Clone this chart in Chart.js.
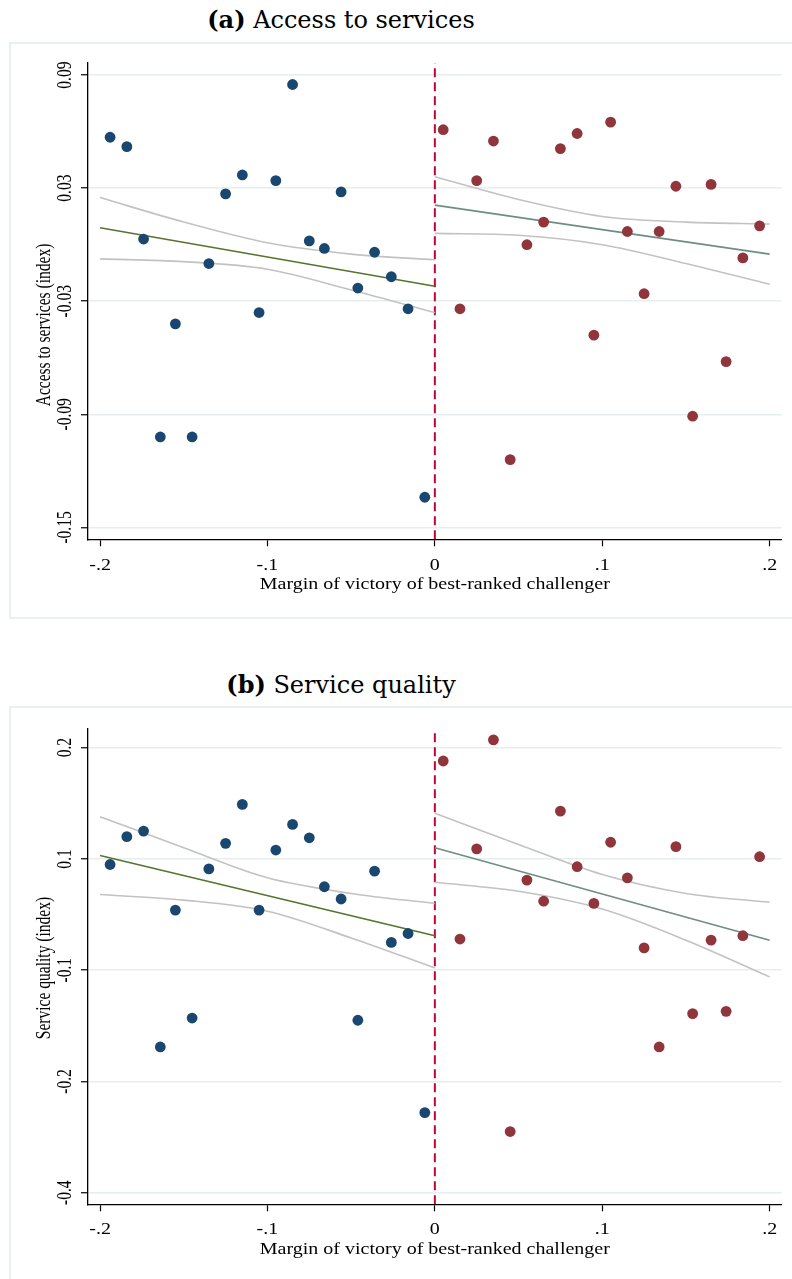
<!DOCTYPE html>
<html>
<head>
<meta charset="utf-8">
<script src="https://cdn.jsdelivr.net/npm/chart.js@4.4.1/dist/chart.umd.min.js"></script>
<style>
  html, body { margin:0; padding:0; background:#fff; }
  body { width:792px; height:1279px; position:relative; overflow:hidden; }
  .frame { position:absolute; border:2px solid #e9f0f2; box-sizing:border-box; }
  .title { position:absolute; left:0; width:682px; text-align:center; font-family:"DejaVu Serif", serif; font-size:24px; line-height:30px; color:#000; white-space:nowrap; }
  canvas { position:absolute; left:0; }
</style>
</head>
<body>
<div class="frame" style="left:9px; top:42px; width:800px; height:577px;"></div>
<div class="frame" style="left:9px; top:706px; width:800px; height:600px;"></div>
<div class="title" style="top:5px;"><b>(a)</b> Access to services</div>
<div class="title" style="top:670px;"><b>(b)</b> Service quality</div>
<canvas id="c1" width="792" height="575" style="top:43px;"></canvas>
<canvas id="c2" width="792" height="572" style="top:707px;"></canvas>
<script>
// ---------- data ----------
const xTicks = [-0.2, -0.1, 0, 0.1, 0.2];
const xTickLabels = ['-.2', '-.1', '0', '.1', '.2'];
const xRange = [-0.2072, 0.2072];
const xTitle = 'Margin of victory of best-ranked challenger';

const binLeftX  = [-0.194,-0.184,-0.174,-0.164,-0.155,-0.145,-0.135,-0.125,-0.115,-0.105,-0.095,-0.085,-0.075,-0.066,-0.056,-0.046,-0.036,-0.026,-0.016,-0.006];
const binRightX = [0.005,0.015,0.025,0.035,0.045,0.055,0.065,0.075,0.085,0.095,0.105,0.115,0.125,0.134,0.144,0.154,0.165,0.174,0.184,0.194];
const fitLeftX = [-0.2, 0];
const fitRightX = [0, 0.2];
const ciLeftX = [-0.2, -0.15, -0.1, -0.05, 0];
const ciRightX = [0, 0.05, 0.1, 0.15, 0.2];
const cutoffX = 0;

// Panel (a): Access to services
const accessTicks = [0.09, 0.03, -0.03, -0.09, -0.15];
const accessTickLabels = ['0.09', '0.03', '-0.03', '-0.09', '-0.15'];
const accessRange = [-0.1563, 0.0964];
const accessTitle = 'Access to services (index)';
const accessLeft  = [0.057,0.052,0.003,-0.102,-0.042,-0.102,-0.010,0.027,0.037,-0.036,0.034,0.085,0.002,-0.002,0.028,-0.023,-0.004,-0.017,-0.034,-0.134];
const accessRight = [0.061,-0.034,0.034,0.055,-0.114,0.000,0.012,0.051,0.059,-0.048,0.065,0.007,-0.026,0.007,0.031,-0.091,0.032,-0.062,-0.007,0.010];
const accessFitLeft = [0.009, -0.022];
const accessFitRight = [0.021, -0.005];
const accessCiLeftHi = [0.025, 0.012, 0.001, -0.005, -0.008];
const accessCiLeftLo = [-0.0075, -0.009, -0.013, -0.024, -0.036];
const accessCiRightHi = [0.036, 0.024, 0.015, 0.012, 0.011];
const accessCiRightLo = [0.006, 0.005, 0.000, -0.010, -0.021];

// Panel (b): Service quality (values in axis position units; tick labels as printed)
const qualityTicks = [0.2, 0.1, 0, -0.1, -0.2];
const qualityTickLabels = ['0.2', '0.1', '-0.1', '-0.2', '-0.4'];
const qualityRange = [-0.2104, 0.2174];
const qualityTitle = 'Service quality (index)';
const qualityLeft  = [0.095,0.120,0.125,-0.069,0.054,-0.043,0.091,0.114,0.149,0.054,0.108,0.131,0.119,0.075,0.064,-0.045,0.089,0.025,0.033,-0.128];
const qualityRight = [0.188,0.028,0.109,0.207,-0.145,0.081,0.062,0.143,0.093,0.060,0.115,0.083,0.020,-0.069,0.111,-0.039,0.027,-0.037,0.031,0.102];
const qualityFitLeft = [0.103, 0.031];
const qualityFitRight = [0.110, 0.027];
const qualityCiLeftHi = [0.138, 0.110, 0.083, 0.069, 0.060];
const qualityCiLeftLo = [0.068, 0.063, 0.053, 0.029, 0.002];
const qualityCiRightHi = [0.141, 0.113, 0.086, 0.069, 0.061];
const qualityCiRightLo = [0.079, 0.071, 0.055, 0.027, -0.006];

// ---------- helpers ----------
const pts = (xs, ys) => xs.map((x, i) => ({x, y: ys[i]}));
const COL = { blue:'#1a476f', red:'#90353b', green:'#55752f', teal:'#6e8e84', cran:'#c10534', ci:'#c2c2c2', grid:'#e6eef0' };
const SERIF = '"Liberation Serif", "Times New Roman", serif';

function buildChart(canvasId, cfg) {
  const yMin = cfg.range[0], yMax = cfg.range[1];
  const scatterDs = (label, xs, ys, color) => ({
    label, data: pts(xs, ys), backgroundColor: color, borderColor: color, borderWidth: 0,
    pointRadius: 5.4, pointHoverRadius: 5.4, showLine: false, order: 0
  });
  const lineDs = (label, xs, ys, color, width, extra) => Object.assign({
    label, data: pts(xs, ys), borderColor: color, backgroundColor: color, borderWidth: width,
    pointRadius: 0, showLine: true, fill: false, order: 1
  }, extra || {});
  const smooth = { cubicInterpolationMode: 'monotone' };

  const axisText = {
    id: 'axisText',
    afterDraw(chart) {
      const ctx = chart.ctx, xs = chart.scales.x, ys = chart.scales.y, area = chart.chartArea;
      ctx.save();
      ctx.fillStyle = '#000';
      // x tick labels
      ctx.font = '20px ' + SERIF;
      ctx.textAlign = 'center';
      ctx.textBaseline = 'alphabetic';
      xTicks.forEach((v, i) => {
        ctx.save();
        ctx.translate(xs.getPixelForValue(v), area.bottom + cfg.xLabelDy);
        ctx.scale(1, 0.8);
        ctx.fillText(xTickLabels[i], 0, 0);
        ctx.restore();
      });
      // x title
      ctx.save();
      ctx.translate((area.left + area.right) / 2, area.bottom + cfg.xTitleDy);
      ctx.scale(1, 0.8);
      ctx.fillText(xTitle, 0, 0);
      ctx.restore();
      // y tick labels (rotated)
      ctx.font = '21px ' + SERIF;
      ctx.textBaseline = 'middle';
      cfg.ticks.forEach((v, i) => {
        ctx.save();
        ctx.translate(65, ys.getPixelForValue(v));
        ctx.rotate(-Math.PI / 2);
        ctx.scale(0.74, 1);
        ctx.fillText(cfg.tickLabels[i], 0, 0);
        ctx.restore();
      });
      // y title (rotated)
      ctx.save();
      ctx.translate(44.7, cfg.yTitleY);
      ctx.rotate(-Math.PI / 2);
      ctx.scale(0.74, 1);
      ctx.fillText(cfg.yTitle, 0, 0);
      ctx.restore();
      ctx.restore();
    }
  };

  return new Chart(document.getElementById(canvasId), {
    type: 'scatter',
    data: {
      datasets: [
        scatterDs('Left', binLeftX, cfg.left, COL.blue),
        scatterDs('Right', binRightX, cfg.right, COL.red),
        lineDs('Fit left', fitLeftX, cfg.fitLeft, COL.green, 1.6),
        lineDs('Fit right', fitRightX, cfg.fitRight, COL.teal, 1.6),
        lineDs('CI left hi', ciLeftX, cfg.ciLeftHi, COL.ci, 1.6, smooth),
        lineDs('CI left lo', ciLeftX, cfg.ciLeftLo, COL.ci, 1.6, smooth),
        lineDs('CI right hi', ciRightX, cfg.ciRightHi, COL.ci, 1.6, smooth),
        lineDs('CI right lo', ciRightX, cfg.ciRightLo, COL.ci, 1.6, smooth),
        lineDs('Cutoff', [cutoffX, cutoffX], [yMin, yMax], COL.cran, 2, { borderDash: [9, 5], order: 2 })
      ]
    },
    options: {
      responsive: false,
      animation: false,
      devicePixelRatio: 1,
      layout: { padding: { top: cfg.padTop, right: 10.3, left: 0, bottom: 0 } },
      plugins: { legend: { display: false }, tooltip: { enabled: false }, title: { display: false } },
      events: [],
      scales: {
        x: {
          type: 'linear', min: xRange[0], max: xRange[1],
          afterBuildTicks: s => { s.ticks = xTicks.map(v => ({ value: v })); },
          afterFit: s => { s.height = cfg.xHeight; },
          ticks: { display: false },
          grid: { display: true, drawOnChartArea: false, drawTicks: true, tickLength: 7, tickColor: '#000', tickWidth: 1.2 },
          border: { display: true, color: '#000', width: 1.3 }
        },
        y: {
          type: 'linear', min: yMin, max: yMax,
          afterBuildTicks: s => { s.ticks = cfg.ticks.map(v => ({ value: v })); },
          afterFit: s => { s.width = 88; },
          ticks: { display: false },
          grid: { display: true, drawOnChartArea: true, color: COL.grid, lineWidth: 1.5, drawTicks: true, tickLength: 7, tickColor: '#000', tickWidth: 1.2 },
          border: { display: true, color: '#000', width: 1.3 }
        }
      }
    },
    plugins: [axisText]
  });
}

buildChart('c1', {
  range: accessRange, ticks: accessTicks, tickLabels: accessTickLabels, yTitle: accessTitle,
  left: accessLeft, right: accessRight, fitLeft: accessFitLeft, fitRight: accessFitRight,
  ciLeftHi: accessCiLeftHi, ciLeftLo: accessCiLeftLo, ciRightHi: accessCiRightHi, ciRightLo: accessCiRightLo,
  padTop: 20, xHeight: 78.7, xLabelDy: 30.5, xTitleDy: 49.3, yTitleY: 325 - 43
});
buildChart('c2', {
  range: qualityRange, ticks: qualityTicks, tickLabels: qualityTickLabels, yTitle: qualityTitle,
  left: qualityLeft, right: qualityRight, fitLeft: qualityFitLeft, fitRight: qualityFitRight,
  ciLeftHi: qualityCiLeftHi, ciLeftLo: qualityCiLeftLo, ciRightHi: qualityCiRightHi, ciRightLo: qualityCiRightLo,
  padTop: 21.3, xHeight: 74.7, xLabelDy: 29.5, xTitleDy: 49.5, yTitleY: 968 - 707
});
</script>
</body>
</html>
